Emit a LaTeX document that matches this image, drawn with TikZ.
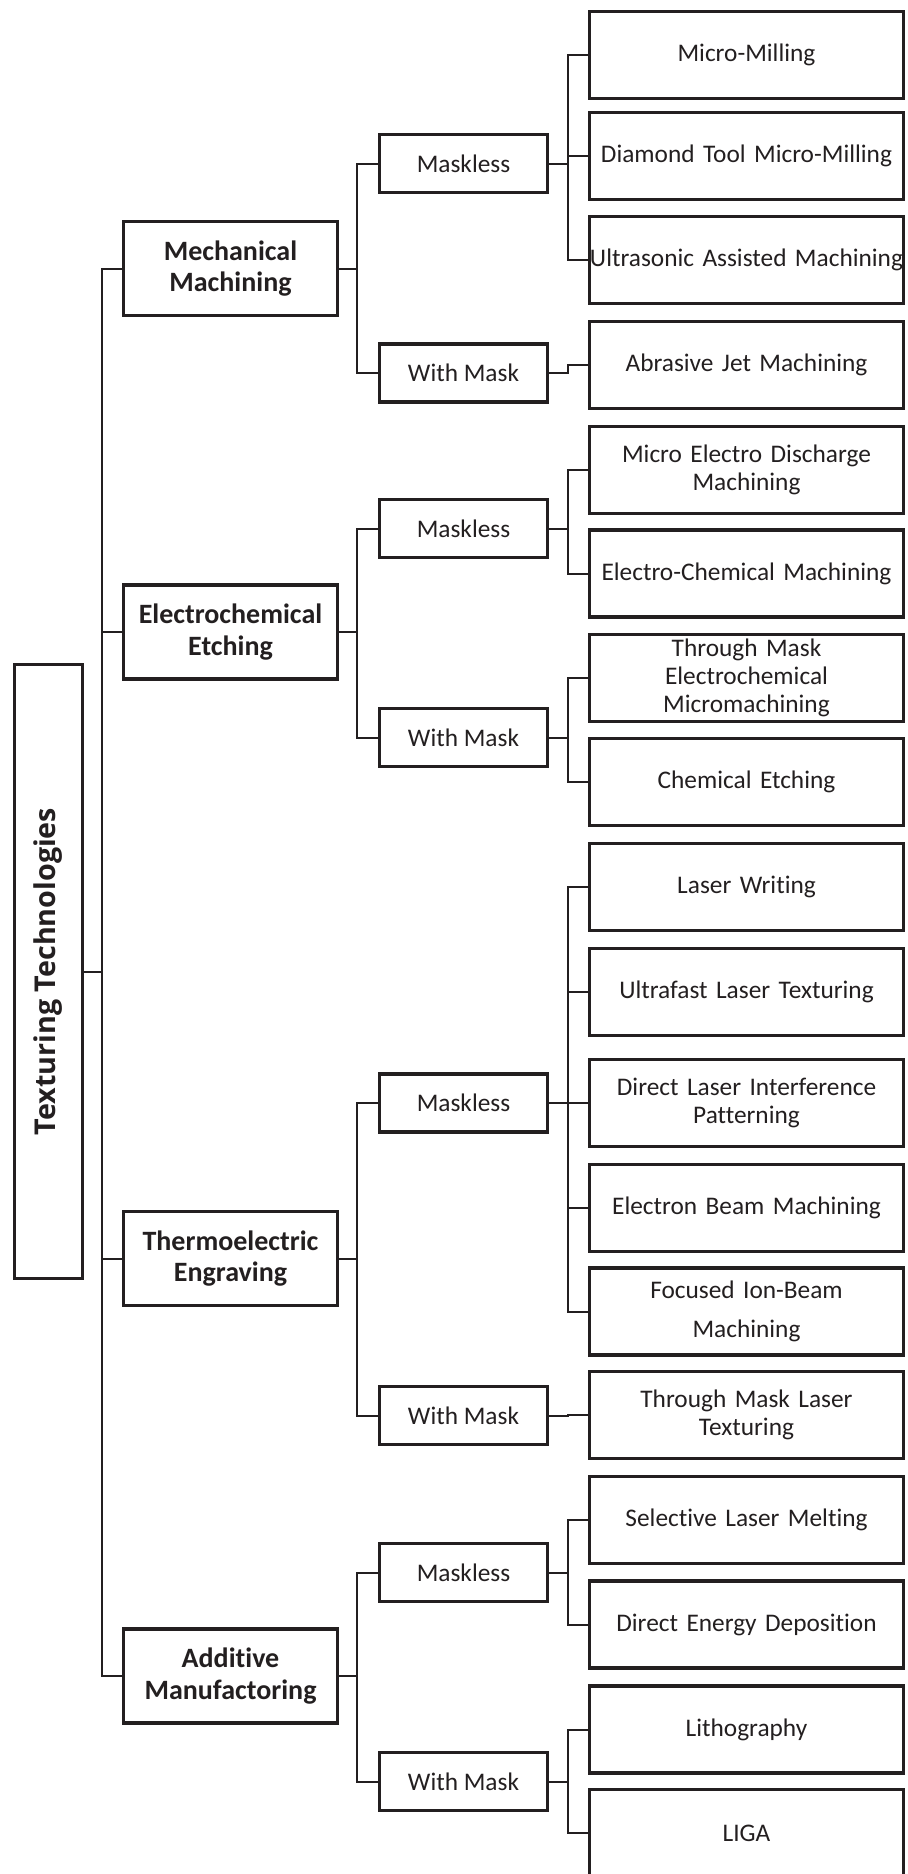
\documentclass[tikz,border=0pt]{standalone}
\usepackage{fontspec}
\setmainfont{Carlito}[Ligatures={NoCommon}]
\newfontfamily\rootfont{Open Sans}[Ligatures={NoCommon}]
\definecolor{ink}{HTML}{231F20}
\begin{document}
\begin{tikzpicture}[x=0.75pt,y=-0.75pt,
  box/.style={draw=ink,line width=2.4pt,text=ink,align=center,inner sep=0pt},
  leaf/.style={box,text width=235.5pt,minimum height=65.25pt,font=\fontsize{19}{21}\selectfont},
  mid/.style={box,minimum width=126pt,minimum height=43.5pt,font=\fontsize{19}{21}\selectfont},
  cat/.style={box,minimum width=160.5pt,minimum height=70.5pt,font=\bfseries\fontsize{21}{23.5}\selectfont},
  rootbox/.style={box,minimum width=51pt,minimum height=460.5pt,font=\rootfont\bfseries\fontsize{21.5}{24}\selectfont},
  link/.style={draw=ink,line width=1.5pt}]
\useasboundingbox (0,0) rectangle (907,1874);
\fill[white] (0,0) rectangle (907,1874);

% buses
\coordinate (bus0) at (102,0);
\coordinate (bus1) at (357,0);
\coordinate (bus2) at (568,0);

% root
\node[rootbox] (root) at (48.5,971.5) {\rotatebox{90}{Texturing Technologies}};

% level 1
\node[cat] (mech) at (230.5,268.5) {Mechanical\\Machining};
\node[cat] (ec)   at (230.5,632)   {Electrochemical\\Etching};
\node[cat] (te)   at (230.5,1258.5){Thermoelectric\\Engraving};
\node[cat] (am)   at (230.5,1676)  {Additive\\Manufactoring};

% level 2
\node[mid] (mechml) at (463.5,163.5)  {Maskless};
\node[mid] (mechwm) at (463.5,373)    {With Mask};
\node[mid] (ecml)   at (463.5,528.5)  {Maskless};
\node[mid] (ecwm)   at (463.5,737.5)  {With Mask};
\node[mid] (teml)   at (463.5,1103)   {Maskless};
\node[mid] (tewm)   at (463.5,1415.5) {With Mask};
\node[mid] (amml)   at (463.5,1572.5) {Maskless};
\node[mid] (amwm)   at (463.5,1781.5) {With Mask};

% leaves
\node[leaf] (l1)  at (746.5,55)     {Micro-Milling};
\node[leaf] (l2)  at (746.5,156)    {Diamond Tool Micro-Milling};
\node[leaf] (l3)  at (746.5,260)    {Ultrasonic Assisted Machining};
\node[leaf] (l4)  at (746.5,365)    {Abrasive Jet Machining};
\node[leaf] (l5)  at (746.5,470)    {Micro Electro Discharge\\Machining};
\node[leaf] (l6)  at (746.5,573.5)  {Electro-Chemical Machining};
\node[leaf] (l7)  at (746.5,678)    {Through Mask\\Electrochemical\\Micromachining};
\node[leaf] (l8)  at (746.5,782)    {Chemical Etching};
\node[leaf] (l9)  at (746.5,887)    {Laser Writing};
\node[leaf] (l10) at (746.5,992)    {Ultrafast Laser Texturing};
\node[leaf] (l11) at (746.5,1103)   {Direct Laser Interference\\Patterning};
\node[leaf] (l12) at (746.5,1208)   {Electron Beam Machining};
\node[leaf,font=\fontsize{19}{29}\selectfont] (l13) at (746.5,1311.5) {Focused Ion-Beam\\Machining};
\node[leaf] (l14) at (746.5,1415)   {Through Mask Laser\\Texturing};
\node[leaf] (l15) at (746.5,1520)   {Selective Laser Melting};
\node[leaf] (l16) at (746.5,1624.5) {Direct Energy Deposition};
\node[leaf] (l17) at (746.5,1729.5) {Lithography};
\node[leaf] (l18) at (746.5,1833)   {LIGA};

% root to level 1
\foreach \c in {mech,ec,te,am}
  \draw[link] (root.east) -- (root.east -| bus0) |- (\c.west);

% level 1 to level 2
\foreach \p/\c in {mech/mechml,mech/mechwm,ec/ecml,ec/ecwm,te/teml,te/tewm,am/amml,am/amwm}
  \draw[link] (\p.east) -- (\p.east -| bus1) |- (\c.west);

% level 2 to leaves
\foreach \p/\c in {mechml/l1,mechml/l2,mechml/l3,mechwm/l4,
                   ecml/l5,ecml/l6,ecwm/l7,ecwm/l8,
                   teml/l9,teml/l10,teml/l11,teml/l12,teml/l13,tewm/l14,
                   amml/l15,amml/l16,amwm/l17,amwm/l18}
  \draw[link] (\p.east) -- (\p.east -| bus2) |- (\c.west);
\end{tikzpicture}
\end{document}
